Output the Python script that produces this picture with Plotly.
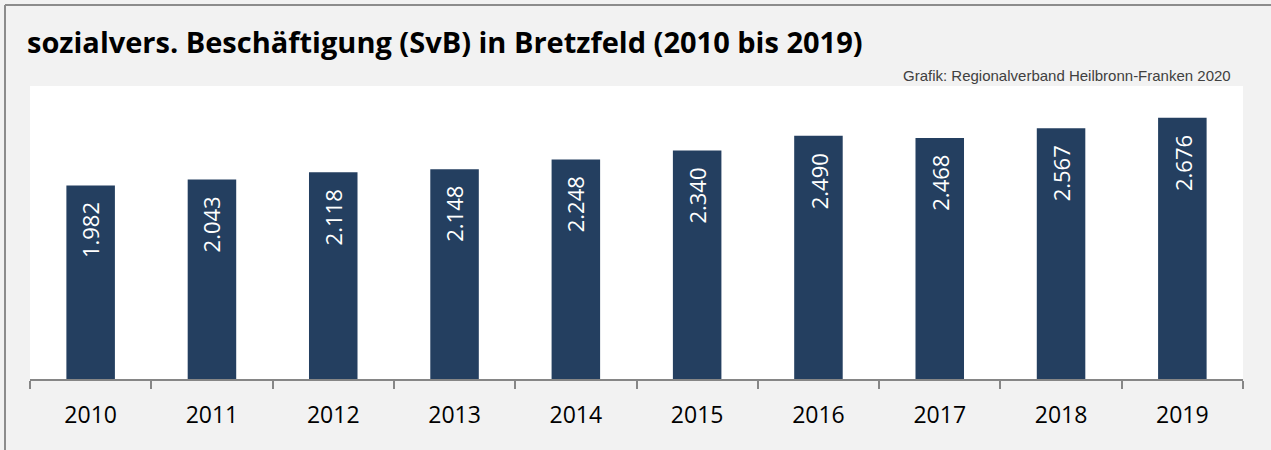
import plotly.graph_objects as go

years = ["2010", "2011", "2012", "2013", "2014", "2015", "2016", "2017", "2018", "2019"]
values = [1982, 2043, 2118, 2148, 2248, 2340, 2490, 2468, 2567, 2676]
title_text = "sozialvers. Beschäftigung (SvB) in Bretzfeld (2010 bis 2019)"
source_text = "Grafik: Regionalverband Heilbronn-Franken 2020"

W, H = 1271, 450
ML, MR, MT, MB = 30, 28, 86, 71
PW, PH = W - ML - MR, H - MT - MB

def px_x(px):
    return (px - ML) / PW

def px_y(py):
    return (H - MB - py) / PH

bar_color = "#243F60"

fig = go.Figure()
fig.add_trace(go.Bar(
    x=years, y=values, marker=dict(color=bar_color, line=dict(width=0)),
    width=0.4, hoverinfo="x+y",
))

labels = [f"{v:,}".replace(",", ".") for v in values]
for i, (v, lab) in enumerate(zip(values, labels)):
    fig.add_annotation(
        x=i, y=v, xref="x", yref="y", text=lab, showarrow=False,
        textangle=-90, yanchor="top", xanchor="center", yshift=-15,
        font=dict(family="Open Sans", size=22, color="white"),
    )

fig.add_annotation(
    x=px_x(25), y=px_y(42), xref="paper", yref="paper", text=f"<b>{title_text}</b>",
    showarrow=False, xanchor="left", yanchor="middle",
    font=dict(family="Open Sans", size=29, color="black"),
)
fig.add_annotation(
    x=px_x(1233), y=px_y(75), xref="paper", yref="paper", text=source_text,
    showarrow=False, xanchor="right", yanchor="middle",
    font=dict(family="Liberation Sans", size=15, color="#404040"),
)

border = "#8c8c8c"
fig.add_shape(type="line", xref="paper", yref="paper",
              x0=px_x(5), y0=px_y(H), x1=px_x(5), y1=px_y(5),
              line=dict(color=border, width=2))
fig.add_shape(type="line", xref="paper", yref="paper",
              x0=px_x(5), y0=px_y(5), x1=px_x(W), y1=px_y(5),
              line=dict(color=border, width=2))

fig.update_layout(
    width=W, height=H,
    margin=dict(l=ML, r=MR, t=MT, b=MB, pad=0),
    paper_bgcolor="#f2f2f2", plot_bgcolor="white",
    showlegend=False, bargap=0.6,
    xaxis=dict(
        type="category", range=[-0.5, len(years) - 0.5], autorange=False,
        showline=True, linecolor="#868686", linewidth=1.5,
        ticks="outside", tickson="boundaries", ticklen=8, tickcolor="#868686",
        tickwidth=1.5, showgrid=False, zeroline=False, tickangle=0,
        tickfont=dict(family="Open Sans", size=23, color="black"),
        ticklabelstandoff=15,
    ),
    yaxis=dict(range=[0, 3000], autorange=False, visible=False, showgrid=False, zeroline=False),
)

fig.write_html("out.html", config={"displayModeBar": False},
               post_script="document.body.style.margin='0';")
